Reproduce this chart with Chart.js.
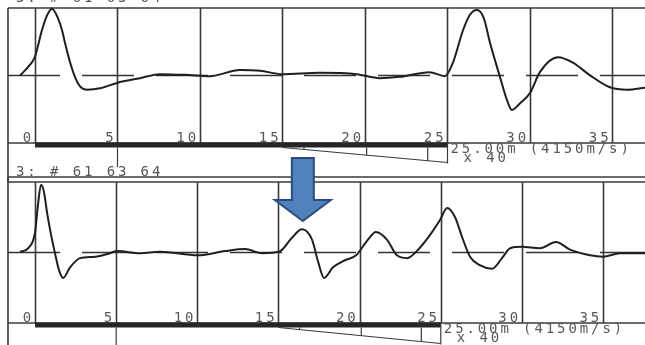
<!DOCTYPE html>
<html>
<head>
<meta charset="utf-8">
<script src="https://cdn.jsdelivr.net/npm/chart.js"></script>
<style>
body { margin: 0; background: #fff; }
#wrap { position: relative; width: 645px; height: 345px; overflow: hidden; background: #fff; }
canvas { position: absolute; left: 0; top: 0; }
</style>
</head>
<body>
<div id="wrap">
  <canvas id="topChart" width="645" height="345"></canvas>
  <canvas id="botChart" width="645" height="345"></canvas>
</div>
<script>
// depth axis (m) and the labels printed by the tester
var depthTicks = [0, 5, 10, 15, 20, 25, 30, 35];
var traceName = "3: # 61 63 64";
var pileText = "25.00m (4150m/s)";
var gainText = "x 40";
var pileLength = 25;
var wedgeStart = 15;
var wedgeMarks = [16.3, 20.1, 23.8];
var arrowAt = 16.5;

// trace before (top) - depth in m, velocity (relative)
var topX = [-0.91, -0.30, 0, 0.42, 0.73, 1.03, 1.39, 1.64, 1.82, 2.12, 2.42, 2.73, 3.15, 3.94, 4.97, 6.36, 7.58, 9.09, 10.6, 12.42, 13.64, 14.97, 17.27, 19.5, 20.9, 22.1, 23.9, 24.85, 25.33, 25.94, 26.36, 26.79, 27.2, 27.58, 28.18, 28.6, 28.9, 29.4, 30.0, 30.6, 31.7, 32.6, 33.6, 34.8, 35.9, 36.97];
var topY = [0.0, 0.16, 0.28, 0.67, 0.89, 0.99, 0.85, 0.67, 0.48, 0.2, -0.02, -0.16, -0.21, -0.19, -0.11, -0.04, 0.02, 0.01, -0.01, 0.08, 0.07, 0.02, 0.04, 0.02, -0.04, -0.02, 0.05, -0.01, 0.19, 0.67, 0.9, 0.97, 0.85, 0.48, -0.02, -0.36, -0.51, -0.41, -0.26, 0.05, 0.27, 0.19, 0.01, -0.17, -0.21, -0.18];

// trace after (bottom)
var botX = [-0.92, -0.43, 0, 0.18, 0.37, 0.55, 0.74, 0.99, 1.23, 1.48, 1.73, 2.16, 2.77, 3.70, 4.62, 5.05, 6.47, 7.70, 10.04, 11.71, 12.94, 14.0, 15.1, 15.83, 16.45, 17.07, 17.44, 17.8, 18.36, 19.1, 19.78, 20.5, 21.0, 21.69, 22.3, 22.92, 23.6, 24.34, 24.95, 25.39, 25.88, 26.31, 26.8, 27.4, 28.16, 28.77, 29.27, 30.0, 31.1, 32.1, 32.96, 34.2, 35.0, 36.04, 37.58];
var botY = [0.01, 0.06, 0.28, 0.67, 0.96, 0.86, 0.57, 0.25, -0.01, -0.25, -0.36, -0.21, -0.08, -0.06, -0.01, 0.02, -0.01, 0.01, -0.04, 0.02, 0.05, -0.01, 0.02, 0.21, 0.33, 0.18, -0.13, -0.36, -0.21, -0.11, -0.04, 0.18, 0.29, 0.18, -0.04, -0.08, 0.04, 0.25, 0.46, 0.63, 0.5, 0.22, -0.06, -0.18, -0.23, -0.08, 0.06, 0.08, 0.06, 0.15, 0.04, -0.04, -0.06, -0.01, -0.01];

var ink = '#1f1f1f';
var gridInk = '#3a3a3a';
var textInk = '#585858';
var monoFont = '14px "DejaVu Sans Mono"';

function line(ctx, x1, y1, x2, y2) {
  ctx.beginPath();
  ctx.moveTo(x1, y1);
  ctx.lineTo(x2, y2);
  ctx.stroke();
}

function monoText(ctx, str, x, y, align) {
  ctx.save();
  ctx.font = monoFont;
  ctx.fillStyle = textInk;
  ctx.letterSpacing = '2.9px';
  ctx.textAlign = align || 'left';
  ctx.textBaseline = 'alphabetic';
  ctx.fillText(str, x, y);
  ctx.restore();
}

function decor(g) {
  return {
    id: 'decor_' + g.name,
    beforeDatasetsDraw: function (chart) {
      var ctx = chart.ctx, a = chart.chartArea, sx = chart.scales.x;
      ctx.save();
      ctx.strokeStyle = gridInk;
      ctx.lineWidth = 1.6;
      depthTicks.forEach(function (v) {
        var px = Math.round(sx.getPixelForValue(v)) + 0.5;
        line(ctx, px, a.top, px, a.bottom);
      });
      line(ctx, a.left, a.top, a.right, a.top);
      line(ctx, a.left, a.bottom, a.right, a.bottom);
      line(ctx, a.left, g.leftFrom, a.left, g.leftTo);
      if (g.rowLine) line(ctx, a.left, g.rowLine, a.right, g.rowLine);
      ctx.restore();
    },
    afterDraw: function (chart) {
      var ctx = chart.ctx, a = chart.chartArea, sx = chart.scales.x;
      var x0 = sx.getPixelForValue(0), xL = sx.getPixelForValue(pileLength);
      ctx.save();
      // pile bar
      ctx.fillStyle = '#262626';
      ctx.fillRect(x0, a.bottom - 0.5, xL - x0, 5);
      var barBot = a.bottom + 4.5;
      ctx.strokeStyle = gridInk;
      ctx.lineWidth = 1.2;
      var wx0 = sx.getPixelForValue(wedgeStart);
      line(ctx, wx0, barBot, xL, barBot + g.wedge);
      wedgeMarks.forEach(function (m) {
        var px = sx.getPixelForValue(m);
        line(ctx, px, barBot, px, barBot + g.wedge * (px - wx0) / (xL - wx0));
      });
      line(ctx, xL, a.bottom, xL, barBot + g.wedge + 1);
      var x5 = sx.getPixelForValue(depthTicks[1]);
      line(ctx, x5, barBot, x5, a.bottom + g.longTick);
      ctx.restore();

      depthTicks.forEach(function (v) {
        monoText(ctx, String(v), sx.getPixelForValue(v) - 1, a.bottom - 1, 'right');
      });
      monoText(ctx, pileText, xL + 3, a.bottom + 10);
      monoText(ctx, gainText, xL + 16, a.bottom + 19);
      if (g.rowLine) {
        monoText(ctx, traceName, 16, g.rowLine - 1);
        monoText(ctx, traceName, 16, 2);
      }
      if (g.arrow) {
        var cx = sx.getPixelForValue(arrowAt);
        ctx.save();
        ctx.beginPath();
        ctx.moveTo(cx - 11, a.top - 24);
        ctx.lineTo(cx + 11, a.top - 24);
        ctx.lineTo(cx + 11, a.top + 18);
        ctx.lineTo(cx + 28, a.top + 18);
        ctx.lineTo(cx, a.top + 39);
        ctx.lineTo(cx - 28, a.top + 18);
        ctx.lineTo(cx - 11, a.top + 18);
        ctx.closePath();
        ctx.fillStyle = '#4f81bd';
        ctx.fill();
        ctx.strokeStyle = '#2c4d7c';
        ctx.lineWidth = 2;
        ctx.stroke();
        ctx.restore();
      }
    }
  };
}

function buildChart(id, xs, ys, xMin, xMax, pad, g) {
  var pts = xs.map(function (x, i) { return { x: x, y: ys[i] }; });
  return new Chart(document.getElementById(id).getContext('2d'), {
    type: 'line',
    data: {
      datasets: [
        { data: pts, borderColor: ink, borderWidth: 2, pointRadius: 0,
          cubicInterpolationMode: 'monotone', fill: false, clip: 6 },
        { data: [{ x: xMin, y: 0 }, { x: xMax, y: 0 }], borderColor: '#333',
          borderWidth: 1.5, borderDash: [52, 22], pointRadius: 0, fill: false }
      ]
    },
    options: {
      responsive: false,
      animation: false,
      events: [],
      layout: { padding: pad },
      plugins: { legend: { display: false }, tooltip: { enabled: false } },
      scales: {
        x: { type: 'linear', min: xMin, max: xMax, display: false },
        y: { min: -1, max: 1, display: false }
      }
    },
    plugins: [decor(g)]
  });
}

buildChart('topChart', topX, topY, -1.636, 36.97,
  { left: 8, right: 0, top: 8, bottom: 202 },
  { name: 'top', leftFrom: 8, leftTo: 182, wedge: 15, longTick: 24, rowLine: 177 });

buildChart('botChart', botX, botY, -1.664, 37.58,
  { left: 8, right: 0, top: 182, bottom: 22 },
  { name: 'bot', leftFrom: 177, leftTo: 345, wedge: 16, longTick: 22, arrow: true });
</script>
</body>
</html>
